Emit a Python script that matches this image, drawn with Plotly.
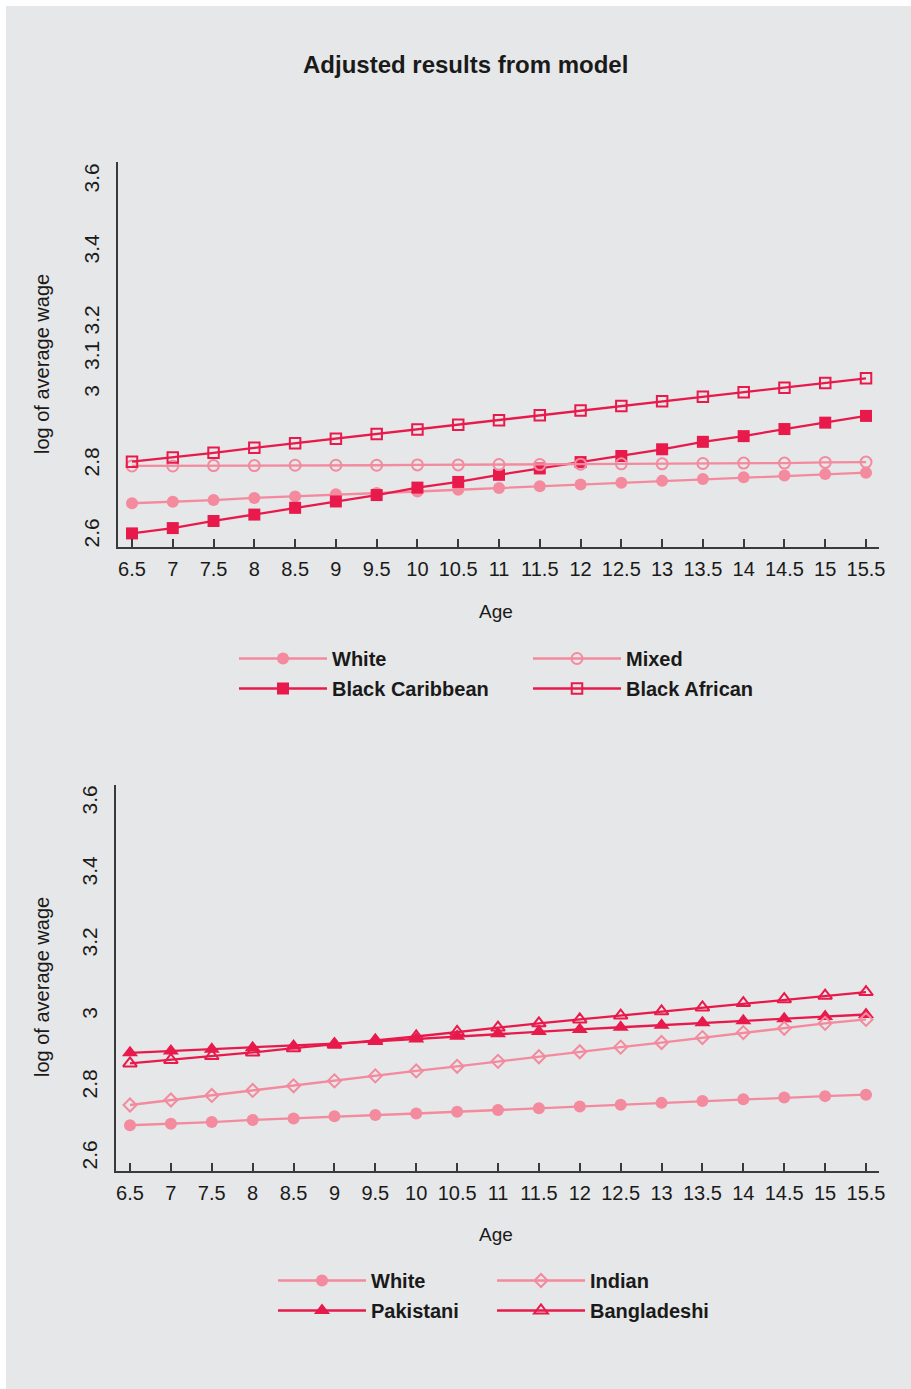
import plotly.graph_objects as go

W, H = 911, 1389

ages = [6.5, 7, 7.5, 8, 8.5, 9, 9.5, 10, 10.5, 11, 11.5, 12, 12.5, 13, 13.5, 14, 14.5, 15, 15.5]
age_labels = ["6.5", "7", "7.5", "8", "8.5", "9", "9.5", "10", "10.5", "11", "11.5",
              "12", "12.5", "13", "13.5", "14", "14.5", "15", "15.5"]

white = [2.681, 2.685, 2.690, 2.696, 2.700, 2.706, 2.710, 2.714, 2.719, 2.724,
         2.729, 2.734, 2.739, 2.744, 2.749, 2.754, 2.759, 2.763, 2.767]
mixed = [2.786, 2.786, 2.787, 2.787, 2.788, 2.788, 2.788, 2.789, 2.789, 2.790,
         2.790, 2.791, 2.792, 2.792, 2.793, 2.794, 2.794, 2.796, 2.797]
black_caribbean = [2.596, 2.611, 2.631, 2.649, 2.668, 2.686, 2.704, 2.725, 2.741, 2.761,
                   2.779, 2.797, 2.814, 2.833, 2.854, 2.870, 2.890, 2.908, 2.927]
black_african = [2.798, 2.810, 2.823, 2.837, 2.850, 2.863, 2.876, 2.889, 2.902, 2.915,
                 2.929, 2.942, 2.955, 2.968, 2.981, 2.994, 3.006, 3.020, 3.033]
indian = [2.738, 2.752, 2.765, 2.779, 2.792, 2.806, 2.820, 2.834, 2.847, 2.861,
          2.874, 2.888, 2.901, 2.914, 2.928, 2.942, 2.954, 2.968, 2.979]
pakistani = [2.885, 2.890, 2.895, 2.899, 2.904, 2.911, 2.917, 2.924, 2.932, 2.939,
             2.945, 2.951, 2.957, 2.963, 2.970, 2.975, 2.981, 2.987, 2.993]
bangladeshi = [2.855, 2.865, 2.876, 2.886, 2.898, 2.908, 2.920, 2.931, 2.944, 2.956,
               2.968, 2.979, 2.990, 3.002, 3.013, 3.025, 3.036, 3.046, 3.056]

ytick_top = [2.6, 2.8, 3, 3.1, 3.2, 3.4, 3.6]
ytick_bottom = [2.6, 2.8, 3, 3.2, 3.4, 3.6]

LIGHT = "#f38a9e"
DARK = "#e81a4b"
BG = "#e6e7e8"
AXIS = "#3a3a3a"
TXT = "#1a1a1a"
FONT = "Liberation Sans, Arial, Helvetica, sans-serif"


def px_x(p):
    return p / W


def px_y(p):
    return 1 - p / H


fig = go.Figure()

series = [
    # name, values, color, symbol, size, axis suffix, legend
    ("White", white, LIGHT, "circle", 12, "", "legend"),
    ("Black Caribbean", black_caribbean, DARK, "square", 12, "", "legend"),
    ("Mixed", mixed, LIGHT, "circle-open", 11, "", "legend2"),
    ("Black African", black_african, DARK, "square-open", 10.5, "", "legend2"),
    ("White", white, LIGHT, "circle", 12, "2", "legend3"),
    ("Pakistani", pakistani, DARK, "triangle-up", 14, "2", "legend3"),
    ("Indian", indian, LIGHT, "diamond-open", 10, "2", "legend4"),
    ("Bangladeshi", bangladeshi, DARK, "triangle-up-open", 12, "2", "legend4"),
]

for name, vals, col, sym, size, ax, leg in series:
    fig.add_trace(go.Scatter(
        x=ages, y=vals, name=name, mode="lines+markers",
        line=dict(color=col, width=2.3),
        marker=dict(symbol=sym, size=size, color=col,
                    line=dict(color=col, width=2 if "open" in sym else 0)),
        xaxis="x" + ax, yaxis="y" + ax, legend=leg,
        legendgroup=leg + name,
        hovertemplate=name + ": %{y:.3f}<extra></extra>",
    ))

xaxis_common = dict(
    tickmode="array", tickvals=ages, ticktext=age_labels,
    ticks="inside", ticklen=8, tickwidth=1.5, tickcolor=AXIS,
    showline=True, linecolor=AXIS, linewidth=1.5,
    showgrid=False, zeroline=False, automargin=False,
    tickfont=dict(family=FONT, size=20, color=TXT),
    ticklabelstandoff=3,
)
yaxis_common = dict(
    tickmode="array",
    ticks="", showline=True, linecolor=AXIS, linewidth=1.5,
    showgrid=False, zeroline=False, tickangle=-90, automargin=False,
    tickfont=dict(family=FONT, size=21, color=TXT),
    ticklabelstandoff=9, ticklabelshift=4,
)

fig.update_layout(
    width=W, height=H, autosize=False,
    margin=dict(l=0, r=0, t=0, b=0, pad=0),
    paper_bgcolor=BG, plot_bgcolor=BG,
    font=dict(family=FONT, color=TXT),
    xaxis=dict(xaxis_common, domain=[px_x(118), px_x(879)], range=[6.3284, 15.6593], anchor="y"),
    yaxis=dict(yaxis_common, domain=[px_y(547), px_y(162)], range=[2.5577, 3.6423],
               tickvals=ytick_top, ticktext=[str(v) for v in ytick_top], anchor="x"),
    xaxis2=dict(xaxis_common, domain=[px_x(116), px_x(879)], range=[6.3288, 15.659], anchor="y2"),
    yaxis2=dict(yaxis_common, domain=[px_y(1171), px_y(785)], range=[2.5521, 3.6394],
                tickvals=ytick_bottom, ticktext=[str(v) for v in ytick_bottom], anchor="x2"),
    showlegend=True,
)

leg_common = dict(orientation="v", bgcolor="rgba(0,0,0,0)", borderwidth=0,
                  itemwidth=88, xanchor="left", yanchor="top", traceorder="grouped",
                  tracegroupgap=1,
                  font=dict(family=FONT, size=20, color=TXT, weight="bold"))
fig.update_layout(
    legend=dict(leg_common, x=px_x(234), y=px_y(639)),
    legend2=dict(leg_common, x=px_x(528), y=px_y(639)),
    legend3=dict(leg_common, x=px_x(273), y=px_y(1261)),
    legend4=dict(leg_common, x=px_x(492), y=px_y(1261)),
)

# thin white margin on top and left of the panel
fig.add_shape(type="rect", xref="paper", yref="paper", x0=0, x1=px_x(6), y0=0, y1=1,
              fillcolor="white", line_width=0, layer="below")
fig.add_shape(type="rect", xref="paper", yref="paper", x0=0, x1=1, y0=px_y(6), y1=1,
              fillcolor="white", line_width=0, layer="below")

annots = [
    dict(text="<b>Adjusted results from model</b>", x=px_x(465), y=px_y(65), size=24, angle=0),
    dict(text="log of average wage", x=px_x(42), y=px_y(364), size=20, angle=-90),
    dict(text="log of average wage", x=px_x(42), y=px_y(987), size=20, angle=-90),
    dict(text="Age", x=px_x(496), y=px_y(611), size=19, angle=0),
    dict(text="Age", x=px_x(496), y=px_y(1234), size=19, angle=0),
]
for a in annots:
    fig.add_annotation(text=a["text"], x=a["x"], y=a["y"], xref="paper", yref="paper",
                       xanchor="center", yanchor="middle", showarrow=False,
                       textangle=a["angle"], font=dict(family=FONT, size=a["size"], color=TXT))

post = """
document.documentElement.style.margin='0';
document.documentElement.style.overflow='hidden';
document.body.style.margin='0';
document.body.style.overflow='hidden';
"""

fig.write_html(
    "out.html",
    config={"displayModeBar": False, "responsive": False},
    post_script=post,
)
